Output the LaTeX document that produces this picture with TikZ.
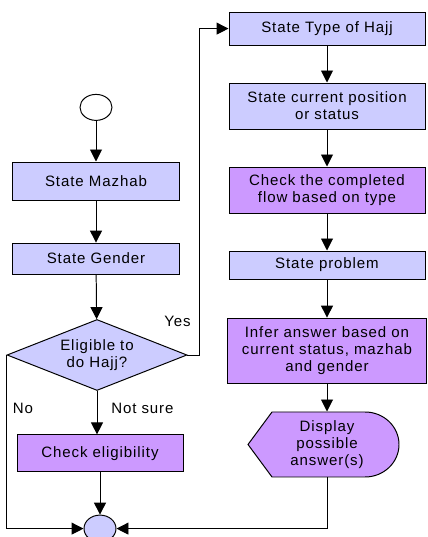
\documentclass[tikz,border=0pt]{standalone}
\usepackage{fontspec}
\setmainfont[LetterSpace=6]{Liberation Sans}
\usetikzlibrary{arrows.meta,shapes.geometric}
\definecolor{lavender}{HTML}{CCCCFF}
\definecolor{lilac}{HTML}{CC99FF}

\begin{document}
\begin{tikzpicture}[>={Triangle[length=3mm,width=3mm]}, line width=0.7pt,
    every node/.style={font=\fontsize{10.7}{12}\selectfont, inner sep=0pt},
    box/.style={draw, fill=lavender, align=center},
    checkbox/.style={box, fill=lilac}]
    \useasboundingbox (0,0) rectangle (10.675,13.425);

    % left column
    \node[draw, ellipse, minimum width=0.8cm, minimum height=0.65cm] (start) at (2.4,10.74) {};
    \node[box, minimum width=4.175cm, minimum height=0.95cm] (mazhab) at (2.4,8.9) {State Mazhab};
    \node[box, minimum width=4.175cm, minimum height=0.775cm] (gender) at (2.4,6.96) {State Gender};
    \node[draw, fill=lavender, diamond, aspect=2.5, align=center,
      minimum width=4.5cm, minimum height=1.775cm] (eligible) at (2.425,4.55) {Eligible to\\do Hajj?};
    \node[checkbox, minimum width=4.15cm, minimum height=0.925cm] (check) at (2.5,2.09) {Check eligibility};
    \node[draw, fill=lavender, ellipse, minimum width=0.8cm, minimum height=0.675cm] (stop) at (2.5,0.21) {};

    % right column
    \node[box, minimum width=4.9cm, minimum height=0.825cm] (hajjtype) at (8.175,12.71) {State Type of Hajj};
    \node[box, minimum width=4.9cm, minimum height=1.15cm] (position) at (8.175,10.775) {State current position\\or status};
    \node[checkbox, minimum width=4.9cm, minimum height=1.15cm] (completed) at (8.175,8.675) {Check the completed\\flow based on type};
    \node[box, minimum width=4.9cm, minimum height=0.7cm] (problem) at (8.175,6.8) {State problem};
    \node[checkbox, minimum width=4.975cm, minimum height=1.625cm] (infer) at (8.175,4.66) {Infer answer based on\\current status, mazhab\\and gender};

    % display shape
    \draw[fill=lilac] (6.2,2.3125) -- (6.8,3.125) -- (9.125,3.125)
      arc[start angle=90, end angle=-90, x radius=0.85, y radius=0.8125]
      -- (6.8,1.5) -- cycle;
    \node[align=center, minimum height=1.625cm] (display) at (8.175,2.3125) {Display\\possible\\answer(s)};

    % arrows
    \draw[->] (start) -- (mazhab);
    \draw[->] (mazhab) -- (gender);
    \draw[->] (gender) -- (eligible);
    \draw[->] (eligible.south) -- (eligible.south |- check.north);
    \draw[->] (check) -- (stop);
    \draw[->] (eligible.west) |- (stop.west);
    \draw[->] (eligible.east) -- ++(0.3,0) |- (hajjtype.west);
    \draw[->] (hajjtype) -- (position);
    \draw[->] (position) -- (completed);
    \draw[->] (completed) -- (problem);
    \draw[->] (problem) -- (infer);
    \draw[->] (infer) -- (display);
    \draw[->] (display.south) |- (stop.east);

    % labels
    \node (yes) at (4.44,5.4) {Yes};
    \node (no) at (0.575,3.225) {No};
    \node (notsure) at (3.56,3.225) {Not sure};
\end{tikzpicture}
\end{document}
